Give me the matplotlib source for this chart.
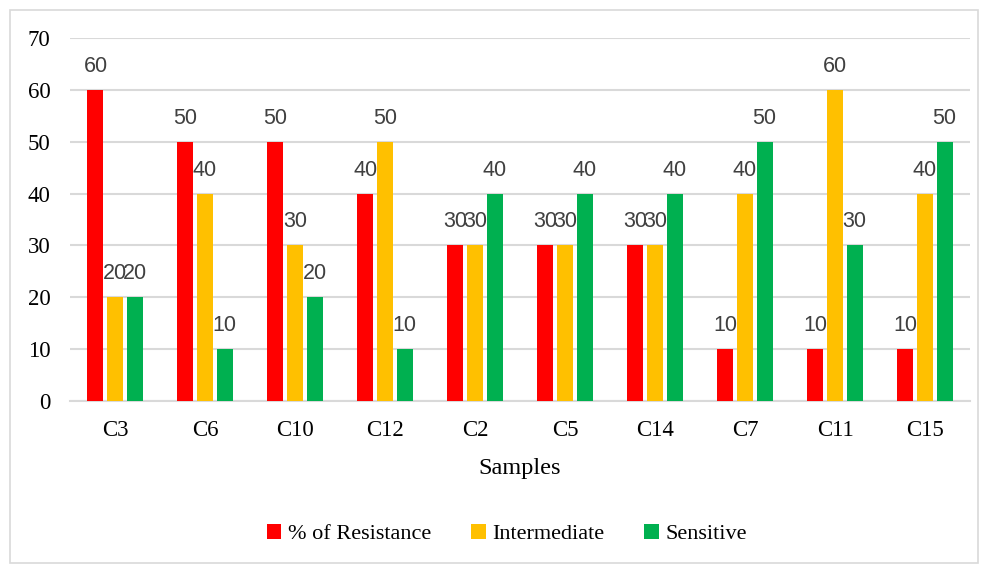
import matplotlib
matplotlib.use("Agg")
import matplotlib.pyplot as plt
import numpy as np
from matplotlib.patches import Rectangle

categories = ["C3", "C6", "C10", "C12", "C2", "C5", "C14", "C7", "C11", "C15"]
resistance = [60, 50, 50, 40, 30, 30, 30, 10, 10, 10]
intermediate = [20, 40, 30, 50, 30, 30, 30, 40, 60, 40]
sensitive = [20, 10, 20, 10, 40, 40, 40, 50, 30, 50]
series_names = ["% of Resistance", "Intermediate", "Sensitive"]
colors = ["#FF0000", "#FFC000", "#00B050"]

fig = plt.figure(figsize=(9.87, 5.65), dpi=100)
fig.patches.append(Rectangle((10/987, 2/565), 968/987, 553/565, transform=fig.transFigure,
                             fill=False, edgecolor="#d9d9d9", linewidth=1.2))
ax = fig.add_axes([70/987, 1-401/565, 900/987, (401-38)/565])

x = np.arange(len(categories))
width = 0.178
offset = 0.217
serif = "Liberation Serif"
for i, (vals, name, c) in enumerate(zip([resistance, intermediate, sensitive], series_names, colors)):
    pos = x + (i-1)*offset
    bars = ax.bar(pos, vals, width, color=c, label=name, zorder=3)
    for b, v in zip(bars, vals):
        ax.annotate(str(v), (b.get_x()+b.get_width()/2, v), xytext=(0, 13), textcoords="offset points",
                    ha="center", va="baseline", fontsize=15.5, color="#404040", family="Liberation Sans")

ax.set_xlim(-0.5, len(categories)-0.5)
ax.set_ylim(0, 70)
ax.set_yticks(range(0, 71, 10))
ax.grid(axis="y", color="#d9d9d9", linewidth=1.5, zorder=0)
for s in ["top", "right", "left"]:
    ax.spines[s].set_visible(False)
ax.spines["bottom"].set_color("#d9d9d9")
ax.spines["bottom"].set_linewidth(1.5)
ax.tick_params(length=0)
ax.tick_params(axis="y", pad=14)
ax.tick_params(axis="x", pad=14)
ax.set_xticks(x)
ax.set_xticklabels(categories)
for lab in ax.get_xticklabels() + ax.get_yticklabels():
    lab.set_family(serif)
    lab.set_fontsize(16.5)
    lab.set_color("#000000")
ax.set_xlabel("Samples", family=serif, fontsize=17.5, labelpad=12)

leg = fig.legend(loc="center", bbox_to_anchor=(507/987, 1-534/565), ncol=3, frameon=False,
                 prop={"family": serif, "size": 16}, handlelength=0.65, handleheight=0.65,
                 handletextpad=0.3, columnspacing=1.8)
fig.savefig("out.png", dpi=100)
